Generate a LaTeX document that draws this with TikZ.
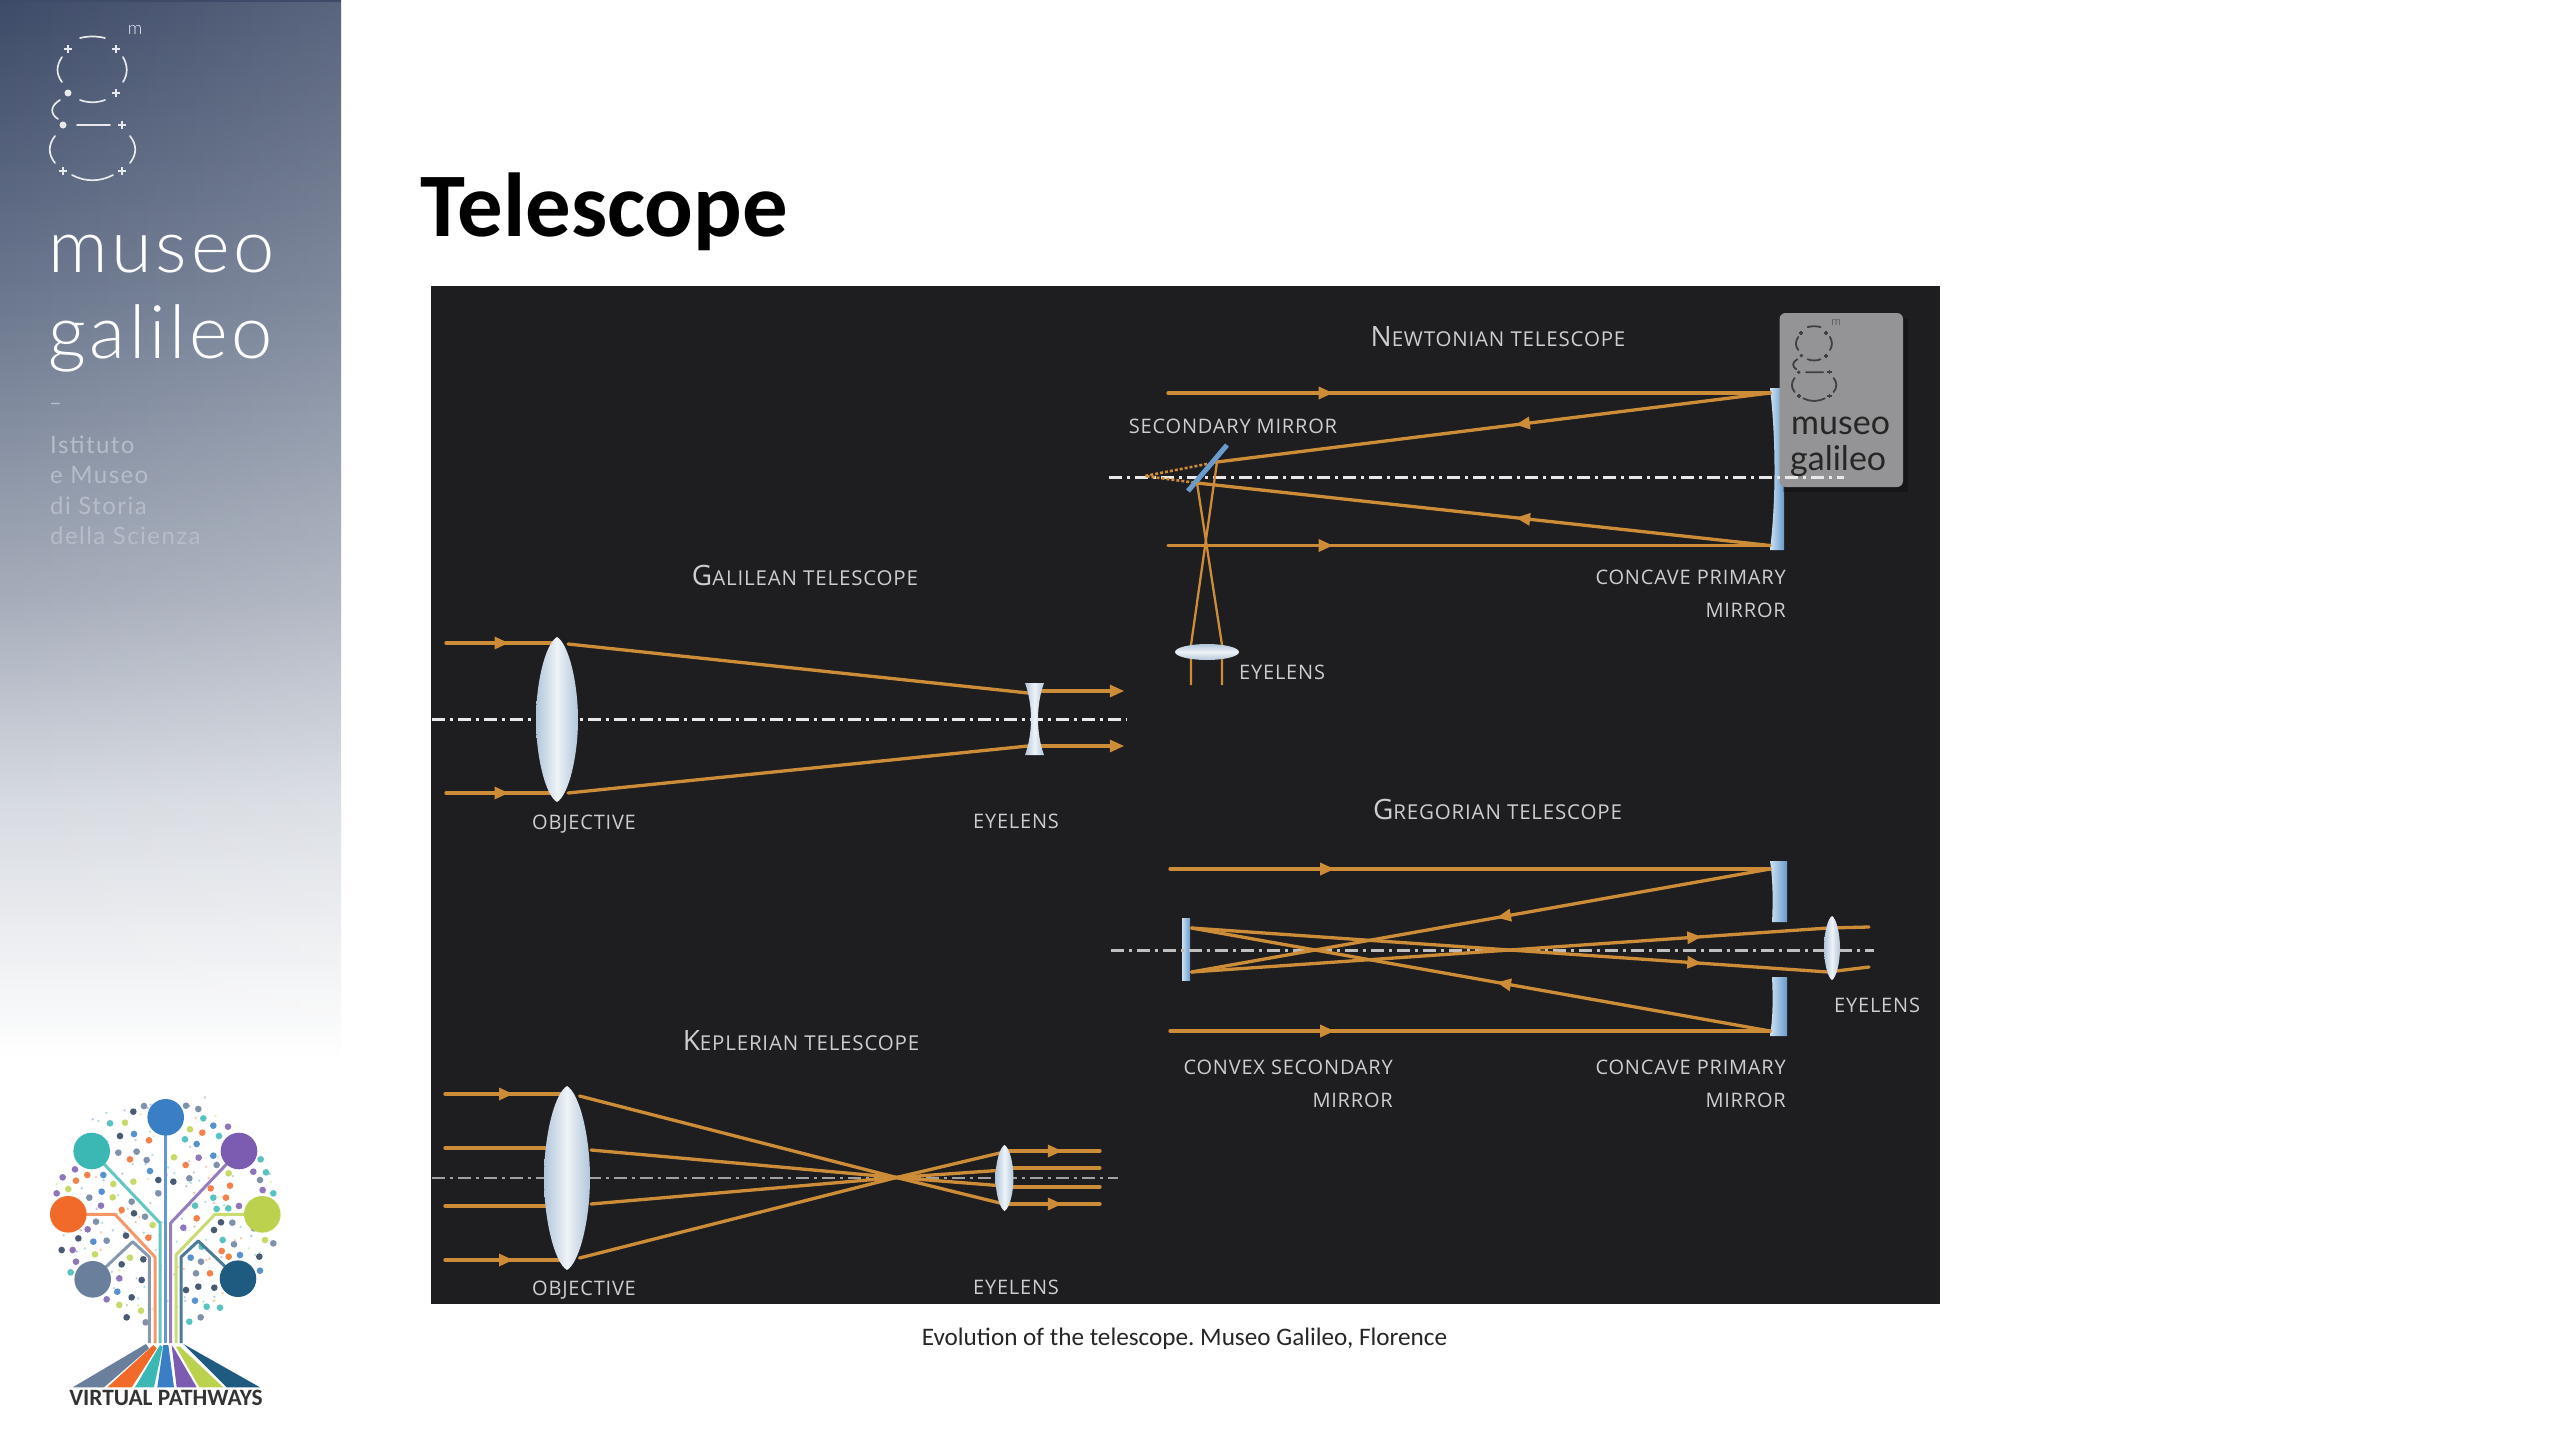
\documentclass[tikz,border=0pt]{standalone}
\usepackage{fontspec}
\usetikzlibrary{decorations.markings,fadings,shadows}
\setmainfont{Carlito}
\newfontfamily\labf{Open Sans}[LetterSpace=4]
\newfontfamily\sidef{Lato}
\newfontfamily\sidel{Lato Light}
\definecolor{panelc}{RGB}{30,29,32}
\definecolor{rayc}{RGB}{205,140,55}
\definecolor{axisc}{RGB}{232,232,232}
\definecolor{labc}{RGB}{205,205,206}
\definecolor{mirL}{RGB}{205,225,242}
\definecolor{mirR}{RGB}{105,155,205}
\definecolor{lensE}{RGB}{178,198,218}
\definecolor{lensM}{RGB}{238,243,248}
\definecolor{sA}{RGB}{62,75,104}
\definecolor{sB}{RGB}{108,120,143}
\definecolor{sC}{RGB}{166,173,186}
\definecolor{sD}{RGB}{214,218,225}
\definecolor{sT}{RGB}{182,188,200}
\definecolor{tB}{RGB}{58,127,198}
\definecolor{tT}{RGB}{59,184,180}
\definecolor{tP}{RGB}{123,92,176}
\definecolor{tO}{RGB}{242,106,42}
\definecolor{tL}{RGB}{188,210,78}
\definecolor{tG}{RGB}{106,127,155}
\definecolor{tN}{RGB}{31,90,128}
\definecolor{tK}{RGB}{40,62,90}
\definecolor{boxc}{RGB}{148,148,150}
\pgfdeclareverticalshading{sidegrad}{100bp}{color(0bp)=(white); color(25bp)=(white); color(37.3bp)=(sD); color(46.7bp)=(sC); color(60.8bp)=(sB); color(75bp)=(sA); color(100bp)=(sA)}
\tikzset{
  x=1pt,y=-1pt,
  rayline/.style={draw=rayc,line width=3.3pt,line cap=round},
  thinray/.style={draw=rayc,line width=2.3pt},
  axisline/.style={draw=axisc,line width=3pt,dash pattern=on 13pt off 5pt on 3pt off 5pt},
  arr/.style={postaction={decorate,decoration={markings,mark=at position #1 with {\fill[rayc] (7,0)--(-7,6.5)--(-7,-6.5)--cycle;}}}},
  lensfill/.style={left color=lensE,right color=lensE,middle color=lensM},
  hlensfill/.style={top color=lensE,bottom color=lensE,middle color=lensM},
  mirrorfill/.style={left color=mirL,right color=mirR},
  lab/.style={font=\labf\fontsize{20}{20}\selectfont,text=labc,inner sep=0pt},
  ttl/.style={font=\labf\fontsize{20.5}{20.5}\selectfont,text=labc,inner sep=0pt},
  treeline/.style={line width=3pt,line join=round},
}
\newcommand{\ttlcap}[2]{{\fontsize{28}{28}\selectfont #1}#2}
% lens outline with blunt ends: centre x, centre y, half width, half height
\newcommand{\lensshape}[4]{%
\path[lensfill,rounded corners=0pt] (#1,#2-#4) .. controls (#1+0.55*#3,#2-0.92*#4) and (#1+#3,#2-0.45*#4) .. (#1+#3,#2) .. controls (#1+#3,#2+0.45*#4) and (#1+0.55*#3,#2+0.92*#4) .. (#1,#2+#4) .. controls (#1-0.55*#3,#2+0.92*#4) and (#1-#3,#2+0.45*#4) .. (#1-#3,#2) .. controls (#1-#3,#2-0.45*#4) and (#1-0.55*#3,#2-0.92*#4) .. (#1,#2-#4) -- cycle;}
% g logo: #1 name, #2 x, #3 y, #4 scale, #5 colour, #6 line width, #7 m size
\newcommand{\glogo}[7]{%
\begin{scope}[shift={(#2,#3)},xscale=#4,yscale=#4,shift={(-50,-36)}]
\draw[#5,line width=#6pt,line cap=round]
  (80,38) .. controls (88,36) and (97,36) .. (105,38)
  (62,57) .. controls (56,66) and (56,74) .. (62,82)
  (123,57) .. controls (128,66) and (128,74) .. (123,82)
  (80,100) .. controls (88,103) and (97,103) .. (105,100)
  (60,100) .. controls (50,106) and (50,114) .. (58,119)
  (77,125) -- (110,125)
  (55,136) .. controls (48,145) and (48,154) .. (55,163)
  (130,136) .. controls (137,145) and (137,154) .. (130,163)
  (72,175) .. controls (85,182) and (100,182) .. (113,175);
\foreach \a/\b in {68/49,116/49,116/93,122/125,63/171,122/171}
  \draw[#5,line width=#6pt] (\a-4,\b)--(\a+4,\b) (\a,\b-4)--(\a,\b+4);
\fill[#5] (68,93) circle (3.5) (63,125) circle (3.5);
\node[text=#5,inner sep=0pt,font=\sidel\fontsize{#7}{#7}\selectfont] (#1) at (135,30) {m};
\end{scope}}
\begin{document}
\begin{tikzpicture}
\frenchspacing
\useasboundingbox (0,0) rectangle (2560,1440);
\fill[white] (0,0) rectangle (2560,1440);
% sidebar
\shade[shading=sidegrad] (0,0) rectangle (341,1060);
\fill[white,fill opacity=.14,path fading=west] (0,0) rectangle (341,1060);
\glogo{topm}{50}{36}{1}{white!88!sA}{1.7}{18}
\node[anchor=base west,text=white,inner sep=0pt,font=\sidel\fontsize{74}{74}\selectfont] (sidemuseo) at (48,272) {\addfontfeature{LetterSpace=5}museo};
\node[anchor=base west,text=white,inner sep=0pt,font=\sidel\fontsize{74}{74}\selectfont] (sidegalileo) at (48,358) {\addfontfeature{LetterSpace=5}galileo};
\node[anchor=base west,text=sT,inner sep=0pt,font=\sidef\fontsize{22}{22}\selectfont] (sidedash) at (49,410) {–};
\foreach \n/\t/\yy in {s1/Istituto/453,s2/e Museo/483,s3/di Storia/514,s4/della Scienza/544}
  \node[anchor=base west,text=sT,inner sep=0pt,font=\sidef\fontsize{24}{24}\selectfont] (\n) at (50,\yy) {\addfontfeature{LetterSpace=6}\t};
% tree dots
\pgfmathsetseed{7}
\foreach \i in {1,...,150}{
  \pgfmathsetmacro{\ang}{rnd*360}
  \pgfmathsetmacro{\rad}{112*sqrt(rnd)}
  \pgfmathsetmacro{\pick}{int(rnd*5)}
  \ifcase\pick\colorlet{dotc}{tG}\or\colorlet{dotc}{tO}\or\colorlet{dotc}{tL}\or\colorlet{dotc}{tB}\else\colorlet{dotc}{tT}\fi
  \fill[dotc!40!white] ({165+\rad*cos(\ang)},{1202+\rad*sin(\ang)}) circle (1.3);
}
\begin{scope}[shift={(0,1060)},xscale=1/3,yscale=1/3]
\foreach \a/\b/\c in {432/138/tG,400/155/tK,330/190/tT,375/188/tL,360/228/tK,402/222/tB,447/241/tO,355/278/tG,410/275/tG,390/298/tO,440/300/tG,225/328/tP,188/352/tP,228/362/tO,262/345/tO,310/345/tB,340/372/tL,400/365/tL,450/333/tB,475/360/tK,205/387/tL,170/400/tP,305/395/tB,338/412/tL,268/413/tG,303/437/tP,395/425/tG,475/400/tG,365/450/tO,402/460/tK,435/470/tG,458/495/tL,288/485/tG,263/508/tP,235/535/tK,280/545/tB,320/542/tG,378/527/tK,445/533/tO,185/570/tK,218/570/tP,285/583/tL,228/605/tP,390/593/tL,430/598/tK,212/637/tT,365/613/tK,358/655/tP,425/660/tK,352/695/tB,395/712/tK,320/718/tP,358/735/tL,423/752/tL,380/772/tK,437/787/tG,558/137/tG,595/147/tG,610/175/tT,640/197/tB,684/200/tP,570/208/tL,607/218/tO,555/238/tT,590/252/tB,657/228/tT,522/292/tL,596/293/tP,557/315/tO,650/315/tG,640/287/tB,782/298/tT,760/335/tP,798/337/tT,686/340/tL,568/355/tG,520/365/tK,690/377/tO,632/385/tO,780/360/tG,788/390/tP,820/400/tT,640/413/tT,678/413/tO,585/437/tT,717/438/tP,650/447/tT,685/445/tT,590/475/tO,550/503/tP,642/510/tK,663/487/tK,697/488/tG,762/505/tG,795/540/tL,820/550/tG,702/553/tG,668/540/tT,605/560/tT,572/593/tB,665/573/tO,720/585/tB,778/590/tK,686/590/tO,603/605/tG,780/632/tB,588/640/tG,558/690/tK,595/680/tK,643/683/tK,620/740/tT,660/743/tT,585/722/tB,602/772/tG,568/785/tT,630/640/tO}
  \fill[\c!85!white] (\a,\b) circle (10);
\end{scope}
% tree branches
\draw[treeline,tB!80!white] (165.7,1117.3)--(165.7,1343);
\draw[treeline,tT!80!white] (91.7,1151)--(160,1223)--(160,1343);
\draw[treeline,tP!80!white] (239,1151)--(170.7,1223)--(170.7,1343);
\draw[treeline,tO!70!white] (68.3,1214.3)--(115,1214.3)--(155,1257)--(155,1343);
\draw[treeline,tL!80!white] (262.3,1214.3)--(215,1214.3)--(176,1255)--(176,1343);
\draw[treeline,tG!80!white] (92.7,1279.3)--(132.7,1241.7)--(149.3,1257)--(149.3,1343);
\draw[treeline,tN!80!white] (238,1278.7)--(198.3,1241)--(181,1257)--(181,1343);
\foreach \a/\b/\c in {165.7/1117.3/tB,91.7/1151/tT,239/1151/tP,68.3/1214.3/tO,262.3/1214.3/tL,92.7/1279.3/tG,238/1278.7/tN}
  \fill[\c] (\a,\b) circle (18.3);
% tree roots
\begin{scope}[shift={(0,1060)},xscale=1/3,yscale=1/3]
\fill[tG] (438,852)--(218,982)--(312,982)--(447,865)--cycle;
\fill[tO] (460,855)--(322,982)--(395,982)--(470,865)--cycle;
\fill[tT] (480,855)--(405,982)--(462,982)--(488,860)--cycle;
\fill[tB] (490,855)--(472,982)--(522,982)--(505,855)--cycle;
\fill[tP] (515,855)--(530,982)--(590,982)--(525,870)--cycle;
\fill[tL] (528,860)--(598,982)--(670,982)--(540,860)--cycle;
\fill[tN] (550,852)--(680,982)--(780,982)--cycle;
\end{scope}
\node[text=black!80,inner sep=0pt,font=\bfseries\fontsize{23.4}{23.4}\selectfont] (vp) at (166,1398) {VIRTUAL PATHWAYS};
% title and caption
\node[anchor=base west,inner sep=0pt,text=black,font=\bfseries\fontsize{90.8}{90.8}\selectfont] (title) at (420,236) {Telescope};
\node[anchor=base,inner sep=0pt,text=black!85,font=\fontsize{25.2}{25.2}\selectfont] (caption) at (1184.5,1345) {Evolution of the telescope. Museo Galileo, Florence};
% panel
\fill[panelc] (431,286) rectangle (1940,1304);
% --- Newtonian
\path[left color=mirL,right color=mirR] (1770,388) .. controls (1776,440) and (1776,500) .. (1770,550) -- (1784,550) -- (1784,388) -- cycle;
\fill[black,opacity=.25] (1783,319) rectangle (1908,492);
\fill[boxc,rounded corners=6pt] (1779.5,313) rectangle (1903,487);
\glogo{boxm}{1792}{326}{0.52}{black!75}{1.8}{12}
\node[anchor=base west,inner sep=0pt,text=black!85,font=\sidef\fontsize{34}{34}\selectfont] (boxmuseo) at (1791,434) {museo};
\node[anchor=base west,inner sep=0pt,text=black!85,font=\sidef\fontsize{34}{34}\selectfont] (boxgalileo) at (1790,470) {galileo};
\draw[axisline] (1109,477)--(1844,477);
\draw[rayc,line width=2.6pt,densely dashed] (1217,462)--(1145,476)--(1197,483);
\draw[rayline,arr=.262] (1168,393)--(1770,393);
\draw[rayline,arr=.447] (1770,393)--(1217,462);
\draw[rayline,arr=.262] (1168,545.5)--(1770,545.5);
\draw[rayline,arr=.431] (1770,545.5)--(1197,483);
\draw[line width=5pt,mirR] (1227,445)--(1188,491);
\draw[thinray] (1217,462)--(1191,645)--(1191,685);
\draw[thinray] (1197,483)--(1222,645)--(1222,685);
\fill[hlensfill] (1207,652) ellipse (32 and 8);
\node[ttl] (tn) at (1498,337) {\ttlcap{N}{EWTONIAN TELESCOPE}};
\node[lab] (ls) at (1233,426) {SECONDARY MIRROR};
\node[lab,anchor=east] (lcp) at (1786,577) {CONCAVE PRIMARY};
\node[lab,anchor=east] (lcm) at (1786,610) {MIRROR};
\node[lab,anchor=west] (le) at (1239,672) {EYELENS};
% --- Gregorian
\path[mirrorfill] (1770,861) .. controls (1773,880) and (1773,903) .. (1772,922) -- (1787,922) -- (1787,861) -- cycle;
\path[mirrorfill] (1772,977) .. controls (1773,997) and (1773,1017) .. (1770,1036) -- (1787,1036) -- (1787,977) -- cycle;
\path[mirrorfill] (1182,918) rectangle (1190,980);
\draw[axisline,draw=axisc!80!panelc] (1111,950)--(1874,950);
\draw[rayline,arr=.262] (1170,869)--(1770,869);
\draw[rayline,arr=.262] (1170,1031)--(1770,1031);
\draw[rayline,arr=.46] (1770,869)--(1191.5,972);
\draw[rayline,arr=.46] (1770,1031)--(1191.5,928);
\draw[rayline,arr=.79] (1191.5,928)--(1828,972);
\draw[rayline,arr=.79] (1191.5,972)--(1828,928);
\draw[rayline] (1828,928)--(1869,927);
\draw[rayline] (1828,972)--(1869,967);
\lensshape{1832}{948}{8}{32}
\node[ttl] (tg) at (1497.5,809) {\ttlcap{G}{REGORIAN TELESCOPE}};
\node[lab,anchor=east] (gc1) at (1393,1067) {CONVEX SECONDARY};
\node[lab,anchor=east] (gc2) at (1393,1100) {MIRROR};
\node[lab,anchor=east] (gp1) at (1786,1067) {CONCAVE PRIMARY};
\node[lab,anchor=east] (gp2) at (1786,1100) {MIRROR};
\node[lab,anchor=west] (ge) at (1834,1005) {EYELENS};
% --- Galilean
\draw[axisline] (432,719)--(1127,719);
\draw[rayline,arr=.5] (446,643)--(557,643);
\draw[rayline,arr=.5] (446,793)--(557,793);
\draw[rayline] (568,644)--(1028,693);
\draw[rayline] (568,793)--(1028,746);
\draw[rayline,arr=.985] (1041,691)--(1118,691);
\draw[rayline,arr=.985] (1041,746)--(1118,746);
\lensshape{557}{719.5}{21}{82.5}
\path[lensfill] (1025,683) -- (1044,683) .. controls (1036,705) and (1036,733) .. (1044,755) -- (1025,755) .. controls (1033,733) and (1033,705) .. (1025,683) -- cycle;
\node[ttl] (tga) at (805,575) {\ttlcap{G}{ALILEAN TELESCOPE}};
\node[lab] (go) at (584,824) {OBJECTIVE};
\node[lab] (gae) at (1016,821) {EYELENS};
% --- Keplerian
\draw[axisline,line width=2.2pt,draw=axisc!65!panelc] (432,1178)--(1118,1178);
\foreach \yy in {1148,1206} \draw[rayline] (445,\yy)--(560,\yy);
\draw[rayline,arr=.5] (445,1094)--(567,1094);
\draw[rayline,arr=.5] (445,1260)--(567,1260);
\draw[rayline] (579.5,1096)--(896.5,1177.5);
\draw[rayline] (591,1150)--(896.5,1177.5);
\draw[rayline] (591,1204)--(896.5,1177.5);
\draw[rayline] (579.5,1258)--(896.5,1177.5);
\draw[rayline] (896.5,1177.5)--(1004,1152);
\draw[rayline] (896.5,1177.5)--(1004,1170);
\draw[rayline] (896.5,1177.5)--(1004,1186);
\draw[rayline] (896.5,1177.5)--(1004,1204);
\draw[rayline,arr=.53] (1004,1151)--(1100,1151);
\draw[rayline] (1004,1168)--(1100,1168);
\draw[rayline] (1004,1187)--(1100,1187);
\draw[rayline,arr=.53] (1004,1204)--(1100,1204);
\lensshape{567}{1178}{23}{92}
\lensshape{1004.5}{1178}{9}{33}
\node[ttl] (tk) at (801,1041) {\ttlcap{K}{EPLERIAN TELESCOPE}};
\node[lab] (ko) at (584,1290) {OBJECTIVE};
\node[lab] (ke) at (1016,1287) {EYELENS};
\end{tikzpicture}
\end{document}
